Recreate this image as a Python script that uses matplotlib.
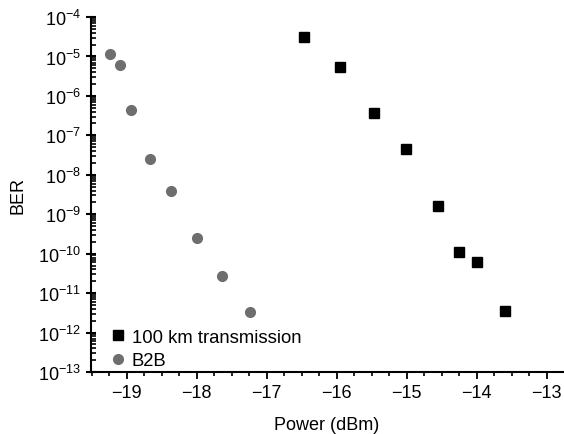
import numpy as np
import matplotlib
matplotlib.use("Agg")
import matplotlib.pyplot as plt
from matplotlib.ticker import LogLocator, MultipleLocator

plt.rcParams['font.family'] = ['Liberation Sans', 'DejaVu Sans']
plt.rcParams['mathtext.fontset'] = 'custom'
plt.rcParams['mathtext.rm'] = 'Liberation Sans'
plt.rcParams['mathtext.it'] = 'Liberation Sans:italic'

# B2B
b2b_power = [-19.24, -19.09, -18.94, -18.67, -18.37, -18.0, -17.63, -17.23]
b2b_ber = [1.15e-5, 6e-6, 4.5e-7, 2.5e-8, 3.8e-9, 2.5e-10, 2.7e-11, 3.4e-12]

# 100 km transmission
tx_power = [-16.46, -15.95, -15.47, -15.01, -14.56, -14.26, -13.99, -13.6]
tx_ber = [3.1e-5, 5.4e-6, 3.7e-7, 4.6e-8, 1.6e-9, 1.1e-10, 6e-11, 3.6e-12]

fig = plt.figure(figsize=(5.64, 4.35), dpi=100)
ax = fig.add_axes([0.161, 0.1425, 0.837, 0.816])

ax.semilogy(tx_power, tx_ber, ls='none', marker='s', ms=6.5, color='black',
            label='100 km transmission')
ax.semilogy(b2b_power, b2b_ber, ls='none', marker='o', ms=7, color='#6e6e6e',
            mec='#6e6e6e', label='B2B')

ax.set_xlim(-19.51, -12.77)
ax.set_ylim(1e-13, 1e-4)
ax.xaxis.set_major_locator(MultipleLocator(1))
ax.xaxis.set_minor_locator(MultipleLocator(0.25))
ax.yaxis.set_major_locator(LogLocator(base=10, numticks=20))
ax.yaxis.set_minor_locator(LogLocator(base=10, subs=np.arange(2, 10), numticks=20))

for s in ['top', 'right']:
    ax.spines[s].set_visible(False)
for s in ['left', 'bottom']:
    ax.spines[s].set_linewidth(1.5)

ax.tick_params(axis='x', which='major', direction='out', length=5, width=1.3, labelsize=13)
ax.tick_params(axis='x', which='minor', direction='out', length=3, width=1.2)
ax.tick_params(axis='y', which='major', direction='inout', length=7, width=1.5, labelsize=13)
ax.tick_params(axis='y', which='minor', direction='in', length=3.5, width=1.2)

ax.set_xlabel('Power (dBm)', fontsize=13, labelpad=11)
ax.set_ylabel('BER', fontsize=13, labelpad=8)

ax.legend(loc='lower left', bbox_to_anchor=(0.018, -0.028), frameon=False,
          fontsize=13.3, handlelength=0.6, handletextpad=0.45,
          borderaxespad=0.3, labelspacing=0.35)

fig.savefig('out.png', dpi=100)
